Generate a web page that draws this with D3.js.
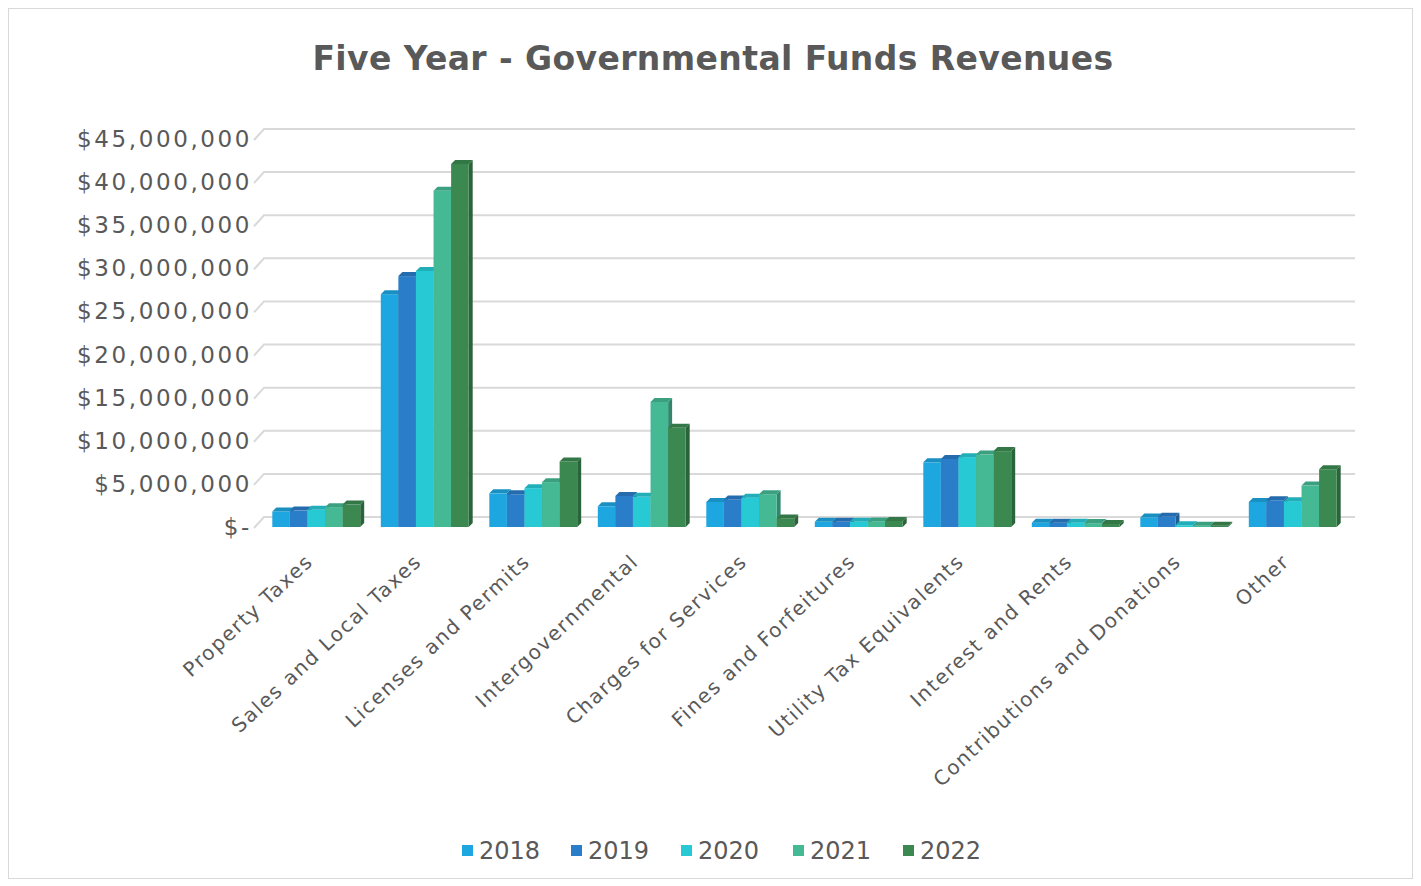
<!DOCTYPE html>
<html><head><meta charset="utf-8">
<script src="https://cdn.jsdelivr.net/npm/d3@7/dist/d3.min.js"></script>
<style>body{margin:0;background:#fff}svg{display:block}</style>
</head><body>
<script>
const categories = ["Property Taxes","Sales and Local Taxes","Licenses and Permits","Intergovernmental","Charges for Services","Fines and Forfeitures","Utility Tax Equivalents","Interest and Rents","Contributions and Donations","Other"];
const years = ["2018","2019","2020","2021","2022"];
const v2018 = [1800000,27000000,3900000,2400000,2900000,600000,7500000,500000,1100000,2900000];
const v2019 = [1900000,29100000,3800000,3600000,3200000,600000,7900000,500000,1200000,3100000];
const v2020 = [2000000,29700000,4500000,3500000,3400000,600000,8100000,500000,200000,3000000];
const v2021 = [2300000,39000000,5200000,14500000,3800000,650000,8400000,450000,150000,4800000];
const v2022 = [2600000,42100000,7600000,11500000,1000000,700000,8800000,350000,150000,6700000];
const series = [v2018,v2019,v2020,v2021,v2022];
const colors = ["#1ea6e0","#2a7dc8","#27c9d5","#44b994","#3b8951"];
const yTicks = [0,5000000,10000000,15000000,20000000,25000000,30000000,35000000,40000000,45000000];

const W=1421,H=886;
const svg=d3.select("body").append("svg").attr("width",W).attr("height",H);
svg.append("rect").attr("x",8.5).attr("y",8.5).attr("width",W-17).attr("height",H-16).attr("fill","#fff").attr("stroke","#d9d9d9");

svg.append("text").attr("x",713).attr("y",70).attr("text-anchor","middle")
  .attr("font-family","DejaVu Sans").attr("font-weight","bold").attr("font-size",33).attr("letter-spacing",0.4)
  .attr("fill","#595959").text("Five Year - Governmental Funds Revenues");

const x0=262,x1=1347, dX=10, dY=10;
const y=d3.scaleLinear().domain([0,45000000]).range([527,139]);
const xb=d3.scaleBand().domain(categories).range([x0,x1]).paddingInner(0.19).paddingOuter(0.095);
const xs=d3.scaleBand().domain(years).range([0,xb.bandwidth()]);

// gridlines (floor/wall perspective)
const g=svg.append("g");
yTicks.forEach(t=>{
  const yf=y(t);
  g.append("path").attr("d",`M${x0-8},${yf+1} L${x0+dX-8},${yf-dY} L1355,${yf-dY}`)
   .attr("fill","none").attr("stroke","#d9d9d9").attr("stroke-width",2);
});

// y axis labels
const fmt=v=>v===0?"$-":"$"+d3.format(",")(v);
svg.append("g").selectAll("text").data(yTicks).join("text")
  .attr("x",252).attr("y",d=>y(d)).attr("dy","0.35em").attr("text-anchor","end")
  .attr("font-family","DejaVu Sans").attr("font-size",23).attr("letter-spacing",2.6)
  .attr("fill","#595959").text(fmt);

// bars in 3D style
const dep=4;
const bars=svg.append("g");
categories.forEach((c,i)=>{
  series.forEach((s,j)=>{
    const bx=xb(c)+xs(years[j]), bw=xs.bandwidth(), top=y(s[i]), bot=y(0);
    const col=d3.color(colors[j]);
    bars.append("path").attr("d",`M${bx+bw},${top} L${bx+bw+dep},${top-dep} L${bx+bw+dep},${bot-dep} L${bx+bw},${bot} Z`)
      .attr("fill",col.darker(0.9));
    bars.append("rect").attr("x",bx).attr("y",top).attr("width",bw).attr("height",Math.max(0,bot-top)).attr("fill",colors[j]);
    bars.append("path").attr("d",`M${bx},${top} L${bx+dep},${top-dep} L${bx+bw+dep},${top-dep} L${bx+bw},${top} Z`)
      .attr("fill",col.darker(0.4));
  });
});

// x labels
svg.append("g").selectAll("text").data(categories).join("text")
  .attr("transform",d=>`translate(${xb(d)+xb.bandwidth()/2-2},${563}) rotate(-43)`)
  .attr("text-anchor","end").attr("font-family","DejaVu Sans").attr("font-size",20).attr("letter-spacing",1.6)
  .attr("fill","#595959").text(d=>d);

// legend
const legX=[462,571,681,793,903];
const leg=svg.append("g");
years.forEach((yr,j)=>{
  leg.append("rect").attr("x",legX[j]).attr("y",845).attr("width",11).attr("height",11).attr("fill",colors[j]);
  leg.append("text").attr("x",legX[j]+17).attr("y",851).attr("dy","0.35em")
    .attr("font-family","DejaVu Sans").attr("font-size",24).attr("fill","#595959").text(yr);
});
</script>
</body></html>
